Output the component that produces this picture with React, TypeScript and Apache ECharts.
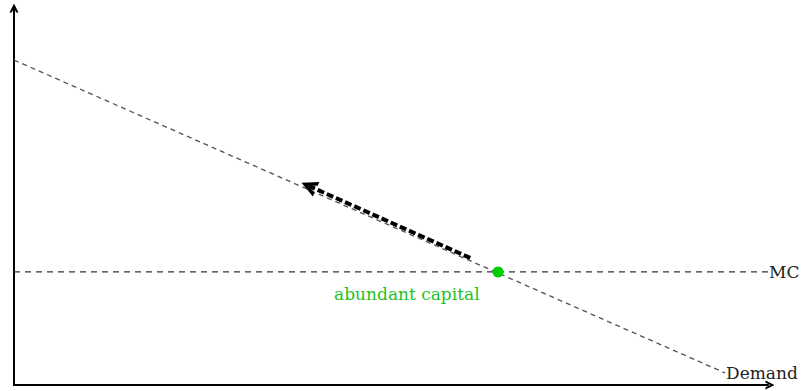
import React, { useEffect, useRef } from "react";
import * as echarts from "echarts";

const demandLine: [number, number][] = [[0, 8.62], [9.43, 0.32]];
const mcLine: [number, number][] = [[0, 3], [10, 3]];
const equilibrium: [number, number][] = [[6.42, 3]];
const shiftArrow: [number, number][] = [[6.05, 3.37], [3.91, 5.28]];
const labelPoint: [number, number][] = [[5.21, 2.41]];
const seriesNames = { demand: "Demand", mc: "MC", label: "abundant capital" };

const chevron = "path://M0,10 L5,0 L10,10 L7.4,10 L5,4.6 L2.6,10 Z";
const serif = "'DejaVu Serif', 'Liberation Serif', serif";

export default function App() {
  const ref = useRef<HTMLDivElement>(null);
  useEffect(() => {
    if (!ref.current) return;
    const chart = echarts.init(ref.current, undefined, { renderer: "svg" });
    const axisCommon = {
      type: "value" as const,
      min: 0,
      max: 10,
      splitLine: { show: false },
      axisTick: { show: false },
      axisLabel: { show: false },
    };
    chart.setOption({
      animation: false,
      grid: { left: 14, right: 35, top: 8, bottom: 6 },
      xAxis: {
        ...axisCommon,
        axisLine: {
          show: true,
          symbol: ["none", chevron],
          symbolSize: [13, 9],
          symbolOffset: [0, 2],
          lineStyle: { color: "#000", width: 2 },
        },
      },
      yAxis: {
        ...axisCommon,
        axisLine: {
          show: true,
          symbol: ["none", chevron],
          symbolSize: [13, 9],
          lineStyle: { color: "#000", width: 2 },
        },
      },
      series: [
        {
          type: "line",
          name: seriesNames.demand,
          data: demandLine,
          symbol: "none",
          lineStyle: { color: "#555", width: 1.3, type: [5, 4] },
          endLabel: {
            show: true,
            formatter: seriesNames.demand,
            color: "#222",
            fontFamily: serif,
            fontSize: 17,
            distance: 1,
          },
        },
        {
          type: "line",
          name: seriesNames.mc,
          data: mcLine,
          symbol: "none",
          lineStyle: { color: "#333", width: 1.3, type: [6, 5] },
          endLabel: {
            show: true,
            formatter: seriesNames.mc,
            color: "#222",
            fontFamily: serif,
            fontSize: 17,
            distance: 1,
          },
        },
        {
          type: "lines",
          coordinateSystem: "cartesian2d",
          data: [{ coords: shiftArrow }],
          symbol: ["none", chevron],
          symbolSize: 16,
          lineStyle: { color: "#000", width: 4, type: [7, 3], opacity: 1 },
          z: 4,
        },
        {
          type: "scatter",
          data: equilibrium,
          symbolSize: 11,
          itemStyle: { color: "#00cc00", opacity: 1 },
          z: 5,
        },
        {
          type: "scatter",
          data: labelPoint,
          symbolSize: 2,
          itemStyle: { color: "rgba(0,0,0,0)", opacity: 1 },
          label: {
            show: true,
            position: "inside",
            formatter: seriesNames.label,
            color: "#1ec41e",
            fontFamily: serif,
            fontSize: 17,
          },
          z: 6,
        },
      ],
    });
    return () => chart.dispose();
  }, []);
  return <div ref={ref} style={{ width: 803, height: 391, position: "absolute", left: 0, top: 0 }} />;
}
